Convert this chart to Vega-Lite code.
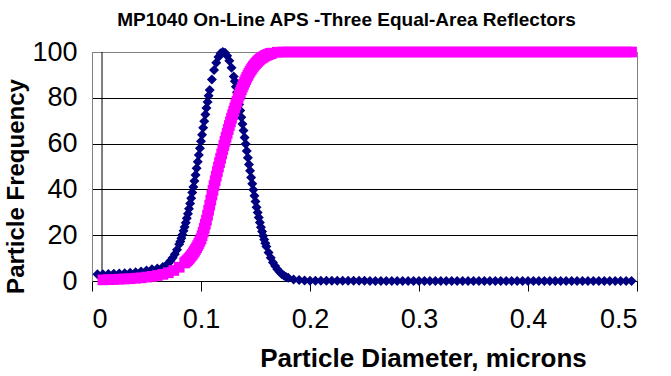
{
  "$schema": "https://vega.github.io/schema/vega-lite/v6.json",
  "width": 545,
  "height": 229,
  "autosize": "none",
  "padding": {"left": 92, "top": 52, "right": 34, "bottom": 95},
  "background": "white",
  "title": {
    "text": "MP1040 On-Line APS -Three Equal-Area Reflectors",
    "font": "Liberation Sans",
    "fontSize": 19,
    "fontWeight": "bold",
    "color": "#000000",
    "anchor": "middle",
    "frame": "group",
    "dx": -18,
    "offset": 8
  },
  "config": {
    "view": {"stroke": "#808080", "strokeWidth": 1},
    "axis": {
      "labelFont": "Liberation Sans",
      "titleFont": "Liberation Sans",
      "labelColor": "#000000",
      "titleColor": "#000000"
    }
  },
  "datasets": {
    "freq": [
      {"d": 0.005, "f": 3.0}, {"d": 0.010, "f": 3.0}, {"d": 0.015, "f": 3.1}, {"d": 0.020, "f": 3.2},
      {"d": 0.025, "f": 3.3}, {"d": 0.030, "f": 3.4}, {"d": 0.035, "f": 3.6}, {"d": 0.040, "f": 3.8},
      {"d": 0.045, "f": 4.2}, {"d": 0.050, "f": 4.6}, {"d": 0.055, "f": 5.1}, {"d": 0.060, "f": 5.5},
      {"d": 0.065, "f": 6.1}, {"d": 0.070, "f": 7.8}, {"d": 0.072, "f": 8.8}, {"d": 0.074, "f": 10.1},
      {"d": 0.076, "f": 11.7}, {"d": 0.078, "f": 13.7}, {"d": 0.080, "f": 16.0}, {"d": 0.081, "f": 17.3},
      {"d": 0.082, "f": 18.7}, {"d": 0.083, "f": 20.2}, {"d": 0.084, "f": 21.9}, {"d": 0.085, "f": 23.6},
      {"d": 0.086, "f": 25.4}, {"d": 0.087, "f": 27.4}, {"d": 0.088, "f": 29.4}, {"d": 0.089, "f": 31.5},
      {"d": 0.090, "f": 33.8}, {"d": 0.091, "f": 36.1}, {"d": 0.092, "f": 38.6}, {"d": 0.093, "f": 41.1},
      {"d": 0.094, "f": 43.7}, {"d": 0.095, "f": 46.3}, {"d": 0.096, "f": 49.2}, {"d": 0.097, "f": 52.1},
      {"d": 0.098, "f": 55.0}, {"d": 0.099, "f": 58.0}, {"d": 0.100, "f": 61.0}, {"d": 0.101, "f": 63.9},
      {"d": 0.102, "f": 66.9}, {"d": 0.103, "f": 69.8}, {"d": 0.104, "f": 72.7}, {"d": 0.105, "f": 75.5},
      {"d": 0.106, "f": 78.2}, {"d": 0.107, "f": 80.9}, {"d": 0.108, "f": 83.4}, {"d": 0.110, "f": 88.0},
      {"d": 0.112, "f": 92.1}, {"d": 0.114, "f": 95.3}, {"d": 0.116, "f": 97.8}, {"d": 0.118, "f": 99.4},
      {"d": 0.120, "f": 100.0}, {"d": 0.122, "f": 99.7}, {"d": 0.124, "f": 98.4}, {"d": 0.126, "f": 96.2},
      {"d": 0.128, "f": 93.1}, {"d": 0.130, "f": 89.3}, {"d": 0.131, "f": 87.2}, {"d": 0.132, "f": 84.8},
      {"d": 0.133, "f": 82.4}, {"d": 0.134, "f": 79.8}, {"d": 0.135, "f": 77.1}, {"d": 0.136, "f": 74.4},
      {"d": 0.137, "f": 71.5}, {"d": 0.138, "f": 68.6}, {"d": 0.139, "f": 65.7}, {"d": 0.140, "f": 62.7},
      {"d": 0.141, "f": 59.8}, {"d": 0.142, "f": 56.8}, {"d": 0.143, "f": 53.8}, {"d": 0.144, "f": 50.9},
      {"d": 0.145, "f": 48.1}, {"d": 0.146, "f": 45.2}, {"d": 0.147, "f": 42.5}, {"d": 0.148, "f": 39.8},
      {"d": 0.149, "f": 37.2}, {"d": 0.150, "f": 34.7}, {"d": 0.151, "f": 32.2}, {"d": 0.152, "f": 29.9},
      {"d": 0.153, "f": 27.7}, {"d": 0.154, "f": 25.6}, {"d": 0.155, "f": 23.5}, {"d": 0.156, "f": 21.6},
      {"d": 0.157, "f": 19.8}, {"d": 0.158, "f": 18.1}, {"d": 0.159, "f": 16.5}, {"d": 0.160, "f": 15.1},
      {"d": 0.162, "f": 12.4}, {"d": 0.164, "f": 10.1}, {"d": 0.166, "f": 8.1}, {"d": 0.168, "f": 6.5},
      {"d": 0.170, "f": 5.1}, {"d": 0.172, "f": 4.0}, {"d": 0.174, "f": 3.1}, {"d": 0.176, "f": 2.4},
      {"d": 0.178, "f": 1.8}, {"d": 0.180, "f": 1.4}, {"d": 0.185, "f": 0.7}, {"d": 0.190, "f": 0.4},
      {"d": 0.195, "f": 0.2}, {"d": 0.200, "f": 0.1}, {"d": 0.205, "f": 0.1}, {"d": 0.210, "f": 0.1},
      {"d": 0.215, "f": 0.1}, {"d": 0.220, "f": 0.1}, {"d": 0.225, "f": 0.1}, {"d": 0.230, "f": 0.1},
      {"d": 0.235, "f": 0.1}, {"d": 0.240, "f": 0.1}, {"d": 0.245, "f": 0.1}, {"d": 0.250, "f": 0.1},
      {"d": 0.255, "f": 0}, {"d": 0.260, "f": 0}, {"d": 0.265, "f": 0}, {"d": 0.270, "f": 0},
      {"d": 0.275, "f": 0}, {"d": 0.280, "f": 0}, {"d": 0.285, "f": 0}, {"d": 0.290, "f": 0},
      {"d": 0.295, "f": 0}, {"d": 0.300, "f": 0}, {"d": 0.305, "f": 0}, {"d": 0.310, "f": 0},
      {"d": 0.315, "f": 0}, {"d": 0.320, "f": 0}, {"d": 0.325, "f": 0}, {"d": 0.330, "f": 0},
      {"d": 0.335, "f": 0}, {"d": 0.340, "f": 0}, {"d": 0.345, "f": 0}, {"d": 0.350, "f": 0},
      {"d": 0.355, "f": 0}, {"d": 0.360, "f": 0}, {"d": 0.365, "f": 0}, {"d": 0.370, "f": 0},
      {"d": 0.375, "f": 0}, {"d": 0.380, "f": 0}, {"d": 0.385, "f": 0}, {"d": 0.390, "f": 0},
      {"d": 0.395, "f": 0}, {"d": 0.400, "f": 0}, {"d": 0.405, "f": 0}, {"d": 0.410, "f": 0},
      {"d": 0.415, "f": 0}, {"d": 0.420, "f": 0}, {"d": 0.425, "f": 0}, {"d": 0.430, "f": 0},
      {"d": 0.435, "f": 0}, {"d": 0.440, "f": 0}, {"d": 0.445, "f": 0}, {"d": 0.450, "f": 0},
      {"d": 0.455, "f": 0}, {"d": 0.460, "f": 0}, {"d": 0.465, "f": 0}, {"d": 0.470, "f": 0},
      {"d": 0.475, "f": 0}, {"d": 0.480, "f": 0}, {"d": 0.485, "f": 0}, {"d": 0.490, "f": 0},
      {"d": 0.495, "f": 0}
    ],
    "cum": [
      {"d": 0.010, "c": 0.5}, {"d": 0.015, "c": 0.6}, {"d": 0.020, "c": 0.7}, {"d": 0.025, "c": 0.8},
      {"d": 0.030, "c": 0.9}, {"d": 0.035, "c": 1.0}, {"d": 0.040, "c": 1.2}, {"d": 0.045, "c": 1.4},
      {"d": 0.050, "c": 1.7}, {"d": 0.055, "c": 2.0}, {"d": 0.060, "c": 2.4}, {"d": 0.065, "c": 2.9},
      {"d": 0.070, "c": 3.6}, {"d": 0.075, "c": 4.6}, {"d": 0.080, "c": 6.0},
      {"d": 0.085, "c": 7.9}, {"d": 0.086, "c": 8.4}, {"d": 0.087, "c": 8.8}, {"d": 0.088, "c": 9.3},
      {"d": 0.089, "c": 9.8}, {"d": 0.090, "c": 10.4}, {"d": 0.091, "c": 11.0}, {"d": 0.092, "c": 11.6},
      {"d": 0.093, "c": 12.3}, {"d": 0.094, "c": 13.0}, {"d": 0.095, "c": 13.8}, {"d": 0.096, "c": 14.6},
      {"d": 0.097, "c": 15.5}, {"d": 0.098, "c": 16.4}, {"d": 0.099, "c": 17.4}, {"d": 0.100, "c": 18.4},
      {"d": 0.101, "c": 19.8}, {"d": 0.102, "c": 21.3}, {"d": 0.103, "c": 23.0}, {"d": 0.104, "c": 24.8},
      {"d": 0.105, "c": 26.6}, {"d": 0.106, "c": 28.7}, {"d": 0.107, "c": 30.9}, {"d": 0.108, "c": 33.1},
      {"d": 0.109, "c": 35.3}, {"d": 0.110, "c": 37.5}, {"d": 0.111, "c": 39.6}, {"d": 0.112, "c": 41.7},
      {"d": 0.113, "c": 43.8}, {"d": 0.114, "c": 45.8}, {"d": 0.115, "c": 47.8}, {"d": 0.116, "c": 49.8},
      {"d": 0.117, "c": 51.7}, {"d": 0.118, "c": 53.6}, {"d": 0.119, "c": 55.5}, {"d": 0.120, "c": 57.4},
      {"d": 0.121, "c": 59.2}, {"d": 0.122, "c": 61.0}, {"d": 0.123, "c": 62.8}, {"d": 0.124, "c": 64.5},
      {"d": 0.125, "c": 66.2}, {"d": 0.126, "c": 67.9}, {"d": 0.127, "c": 69.5}, {"d": 0.128, "c": 71.1},
      {"d": 0.129, "c": 72.6}, {"d": 0.130, "c": 74.1}, {"d": 0.131, "c": 75.6}, {"d": 0.132, "c": 77.0},
      {"d": 0.133, "c": 78.4}, {"d": 0.134, "c": 79.8}, {"d": 0.135, "c": 81.1}, {"d": 0.136, "c": 82.3},
      {"d": 0.137, "c": 83.5}, {"d": 0.138, "c": 84.7}, {"d": 0.139, "c": 85.8}, {"d": 0.140, "c": 86.9},
      {"d": 0.141, "c": 87.9}, {"d": 0.142, "c": 88.9}, {"d": 0.143, "c": 89.8}, {"d": 0.144, "c": 90.7},
      {"d": 0.145, "c": 91.5}, {"d": 0.146, "c": 92.3}, {"d": 0.147, "c": 93.0}, {"d": 0.148, "c": 93.7},
      {"d": 0.149, "c": 94.3}, {"d": 0.150, "c": 94.9}, {"d": 0.151, "c": 95.4}, {"d": 0.152, "c": 95.9},
      {"d": 0.153, "c": 96.4}, {"d": 0.154, "c": 96.8}, {"d": 0.155, "c": 97.2}, {"d": 0.156, "c": 97.5},
      {"d": 0.157, "c": 97.8}, {"d": 0.158, "c": 98.1}, {"d": 0.159, "c": 98.4}, {"d": 0.160, "c": 98.6},
      {"d": 0.161, "c": 98.8}, {"d": 0.162, "c": 99.0}, {"d": 0.163, "c": 99.2}, {"d": 0.164, "c": 99.4},
      {"d": 0.165, "c": 99.5}, {"d": 0.170, "c": 99.9}, {"d": 0.175, "c": 100}, {"d": 0.180, "c": 100},
      {"d": 0.185, "c": 100}, {"d": 0.190, "c": 100}, {"d": 0.195, "c": 100}, {"d": 0.200, "c": 100},
      {"d": 0.205, "c": 100}, {"d": 0.210, "c": 100}, {"d": 0.215, "c": 100}, {"d": 0.220, "c": 100},
      {"d": 0.225, "c": 100}, {"d": 0.230, "c": 100}, {"d": 0.235, "c": 100}, {"d": 0.240, "c": 100},
      {"d": 0.245, "c": 100}, {"d": 0.250, "c": 100}, {"d": 0.255, "c": 100}, {"d": 0.260, "c": 100},
      {"d": 0.265, "c": 100}, {"d": 0.270, "c": 100}, {"d": 0.275, "c": 100}, {"d": 0.280, "c": 100},
      {"d": 0.285, "c": 100}, {"d": 0.290, "c": 100}, {"d": 0.295, "c": 100}, {"d": 0.300, "c": 100},
      {"d": 0.305, "c": 100}, {"d": 0.310, "c": 100}, {"d": 0.315, "c": 100}, {"d": 0.320, "c": 100},
      {"d": 0.325, "c": 100}, {"d": 0.330, "c": 100}, {"d": 0.335, "c": 100}, {"d": 0.340, "c": 100},
      {"d": 0.345, "c": 100}, {"d": 0.350, "c": 100}, {"d": 0.355, "c": 100}, {"d": 0.360, "c": 100},
      {"d": 0.365, "c": 100}, {"d": 0.370, "c": 100}, {"d": 0.375, "c": 100}, {"d": 0.380, "c": 100},
      {"d": 0.385, "c": 100}, {"d": 0.390, "c": 100}, {"d": 0.395, "c": 100}, {"d": 0.400, "c": 100},
      {"d": 0.405, "c": 100}, {"d": 0.410, "c": 100}, {"d": 0.415, "c": 100}, {"d": 0.420, "c": 100},
      {"d": 0.425, "c": 100}, {"d": 0.430, "c": 100}, {"d": 0.435, "c": 100}, {"d": 0.440, "c": 100},
      {"d": 0.445, "c": 100}, {"d": 0.450, "c": 100}, {"d": 0.455, "c": 100}, {"d": 0.460, "c": 100},
      {"d": 0.465, "c": 100}, {"d": 0.470, "c": 100}, {"d": 0.475, "c": 100}, {"d": 0.480, "c": 100},
      {"d": 0.485, "c": 100}, {"d": 0.490, "c": 100}, {"d": 0.495, "c": 100}
    ],
    "marker": [{"d": 0.0092}]
  },
  "layer": [
    {
      "data": {"name": "marker"},
      "mark": {"type": "rule", "color": "#000000", "strokeWidth": 1},
      "encoding": {
        "x": {"field": "d", "type": "quantitative", "scale": {"domain": [0, 0.5], "nice": false}}
      }
    },
    {
      "data": {"name": "freq"},
      "mark": {"type": "point", "shape": "diamond", "filled": true, "color": "#000080", "size": 100, "opacity": 1},
      "encoding": {
        "x": {
          "field": "d", "type": "quantitative",
          "scale": {"domain": [0, 0.5], "nice": false, "zero": false},
          "axis": {
            "values": [0, 0.1, 0.2, 0.3, 0.4, 0.5],
            "format": "~g",
            "grid": false,
            "domainColor": "#000000",
            "tickColor": "#000000",
            "tickSize": 10,
            "labelFontSize": 27,
            "labelPadding": 15,
            "title": "Particle Diameter, microns",
            "titleFontSize": 26,
            "titleFontWeight": "bold",
            "titleX": 331,
            "titleY": 85,
            "titleAlign": "center",
            "titleBaseline": "alphabetic"
          }
        },
        "y": {
          "field": "f", "type": "quantitative",
          "scale": {"domain": [0, 100], "nice": false},
          "axis": {
            "values": [0, 20, 40, 60, 80, 100],
            "grid": true,
            "gridColor": {"condition": {"test": "datum.value == 100", "value": "#808080"}, "value": "#000000"},
            "gridWidth": 1,
            "domainColor": "#808080",
            "ticks": false,
            "labelFontSize": 27,
            "labelPadding": 15,
            "title": "Particle Frequency",
            "titleFontSize": 24,
            "titleFontWeight": "bold",
            "titleX": -69,
            "titleY": 134,
            "titleAlign": "center",
            "titleBaseline": "alphabetic"
          }
        }
      }
    },
    {
      "data": {"name": "cum"},
      "mark": {"type": "point", "shape": "square", "filled": true, "color": "#FF00FF", "size": 115, "opacity": 1},
      "encoding": {
        "x": {"field": "d", "type": "quantitative"},
        "y": {"field": "c", "type": "quantitative"}
      }
    }
  ]
}
